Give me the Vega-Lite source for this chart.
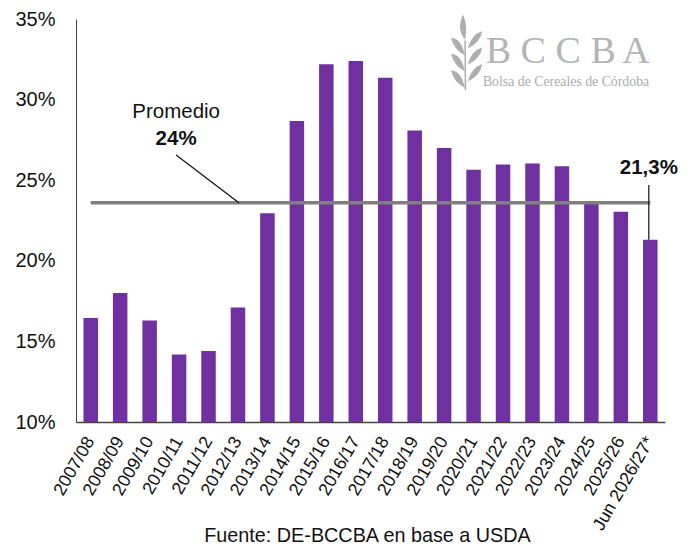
{"$schema":"https://vega.github.io/schema/vega-lite/v6.json","width":589,"height":403,"autosize":{"type":"none"},"padding":{"left":76,"top":19,"right":30,"bottom":123},"background":"white","config":{"view":{"stroke":null},"font":"Liberation Sans"},
"datasets":{"bars":[{"c":"2007/08","v":0.1645},{"c":"2008/09","v":0.18},{"c":"2009/10","v":0.163},{"c":"2010/11","v":0.1418},{"c":"2011/12","v":0.144},{"c":"2012/13","v":0.171},{"c":"2013/14","v":0.2295},{"c":"2014/15","v":0.2868},{"c":"2015/16","v":0.322},{"c":"2016/17","v":0.324},{"c":"2017/18","v":0.3135},{"c":"2018/19","v":0.2808},{"c":"2019/20","v":0.27},{"c":"2020/21","v":0.2565},{"c":"2021/22","v":0.2597},{"c":"2022/23","v":0.2603},{"c":"2023/24","v":0.2587},{"c":"2024/25","v":0.236},{"c":"2025/26","v":0.2305},{"c":"Jun 2026/27*","v":0.213}],
"avg":[{"i":0,"v":0.236},{"i":19,"v":0.236}],
"leaders":[{"i":2.9,"i2":5.03,"v":0.2656,"v2":0.236},{"i":18.95,"i2":18.95,"v":0.247,"v2":0.213}],
"normal":[{"i":2.9,"v":0.2923,"t":"Promedio"}],
"bold":[{"i":2.9,"v":0.2756,"t":"24%"},{"i":18.95,"v":0.2576,"t":"21,3%"}],
"logoLetters":[{"i":13.84,"v":0.3295,"t":"B"},{"i":15.02,"v":0.3295,"t":"C"},{"i":16.21,"v":0.3295,"t":"C"},{"i":17.4,"v":0.3295,"t":"B"},{"i":18.51,"v":0.3295,"t":"A"}],
"logoSub":[{"i":16.14,"v":0.3109,"t":"Bolsa de Cereales de Córdoba"}],
"logoMark":[{"i":12.66,"v":0.3296}]},
"layer":[
{"data":{"name":"bars"},"mark":{"type":"bar","color":"#7030A0","width":14.5},"encoding":{"x":{"field":"c","type":"nominal","sort":null,"scale":{"paddingInner":0.5,"paddingOuter":0.25},"axis":{"title":"Fuente: DE-BCCBA en base a USDA","titleFont":"Liberation Sans","titleFontSize":19.8,"titleFontWeight":"normal","titleColor":"#111111","titleY":103,"titleX":291,"labelAngle":-60,"labelAlign":"right","labelBaseline":"middle","labelFontSize":17.8,"labelColor":"#111111","labelOverlap":false,"labelPadding":16,"labelLimit":0,"ticks":false,"domainColor":"#444444","domainWidth":1.3}},"y":{"field":"v","type":"quantitative","scale":{"domain":[0.1,0.35],"nice":false,"zero":false,"clamp":true},"axis":{"title":null,"format":".0%","values":[0.1,0.15,0.2,0.25,0.3,0.35],"grid":false,"ticks":false,"labelFontSize":20,"labelColor":"#111111","labelPadding":21,"domainColor":"#444444","domainWidth":1}}}},
{"data":{"name":"avg"},"mark":{"type":"line","color":"#7F7F7F","strokeWidth":3.5},"encoding":{"x":{"field":"i","type":"quantitative","scale":{"domain":[-0.5,19.5],"nice":false,"zero":false},"axis":null},"y":{"field":"v","type":"quantitative"}}},
{"data":{"name":"leaders"},"mark":{"type":"rule","color":"#111111","strokeWidth":1.2},"encoding":{"x":{"field":"i","type":"quantitative","scale":{"domain":[-0.5,19.5],"nice":false,"zero":false},"axis":null},"x2":{"field":"i2"},"y":{"field":"v","type":"quantitative"},"y2":{"field":"v2"}}},
{"data":{"name":"normal"},"mark":{"type":"text","fontSize":20.5,"color":"#111111"},"encoding":{"x":{"field":"i","type":"quantitative","scale":{"domain":[-0.5,19.5],"nice":false,"zero":false},"axis":null},"y":{"field":"v","type":"quantitative"},"text":{"field":"t"}}},
{"data":{"name":"bold"},"mark":{"type":"text","fontSize":20.5,"fontWeight":"bold","color":"#111111"},"encoding":{"x":{"field":"i","type":"quantitative","scale":{"domain":[-0.5,19.5],"nice":false,"zero":false},"axis":null},"y":{"field":"v","type":"quantitative"},"text":{"field":"t"}}},
{"data":{"name":"logoLetters"},"mark":{"type":"text","fontSize":38,"font":"Liberation Serif","color":"#B5B5B5"},"encoding":{"x":{"field":"i","type":"quantitative","scale":{"domain":[-0.5,19.5],"nice":false,"zero":false},"axis":null},"y":{"field":"v","type":"quantitative"},"text":{"field":"t"}}},
{"data":{"name":"logoSub"},"mark":{"type":"text","fontSize":13.8,"font":"Liberation Serif","color":"#ABABAB"},"encoding":{"x":{"field":"i","type":"quantitative","scale":{"domain":[-0.5,19.5],"nice":false,"zero":false},"axis":null},"y":{"field":"v","type":"quantitative"},"text":{"field":"t"}}},
{"data":{"name":"logoMark"},"mark":{"type":"point","filled":true,"opacity":1,"color":"#AEAEAE","size":5800,"shape":"M-0.01,-0.98Q0.12,-0.65 0.04,-0.32Q-0.2,-0.6 -0.01,-0.98ZM0.11,-0.09Q0.2,-0.45 0.49,-0.55Q0.45,-0.25 0.11,-0.09ZM0.11,0.34Q0.2,-0.02 0.49,-0.12Q0.45,0.18 0.11,0.34ZM0.11,0.78Q0.2,0.42 0.49,0.32Q0.45,0.62 0.11,0.78ZM-0.33,-0.37Q-0.05,-0.35 0.03,0.09Q-0.25,-0.05 -0.33,-0.37ZM-0.33,0.05Q-0.05,0.07 0.03,0.51Q-0.25,0.37 -0.33,0.05ZM-0.33,0.48Q-0.05,0.5 0.03,0.94Q-0.25,0.8 -0.33,0.48ZM0.02,-0.3L0.06,-0.3L0.07,1L0.03,1Z"},"encoding":{"x":{"field":"i","type":"quantitative","scale":{"domain":[-0.5,19.5],"nice":false,"zero":false},"axis":null},"y":{"field":"v","type":"quantitative"}}}
],"resolve":{"scale":{"x":"independent"}}}
